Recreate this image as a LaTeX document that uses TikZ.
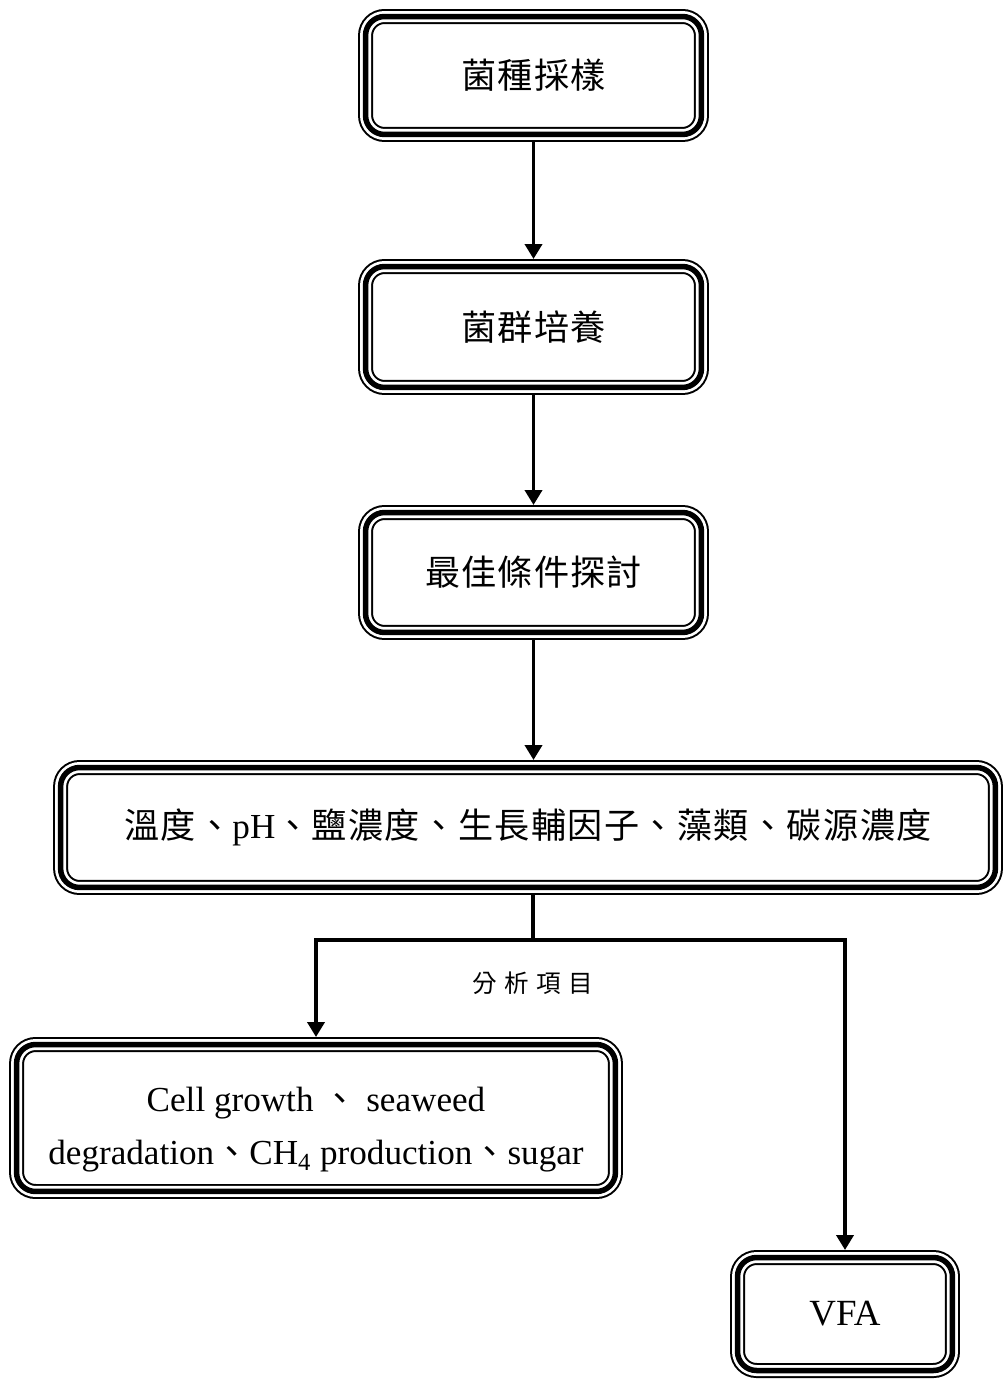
\documentclass[tikz,border=0pt]{standalone}
\usepackage{fontspec}
\setmainfont{Liberation Serif}
\newfontfamily\cjk[LetterSpace=3]{Noto Sans CJK TC}
\newfontfamily\cjkwide[LetterSpace=4]{Noto Sans CJK TC}
\newfontfamily\cjklab[LetterSpace=30]{Noto Sans CJK TC}
\usetikzlibrary{arrows.meta}
\tikzset{
  tribox/.style={rounded corners=0.38cm, inner sep=0pt,
    preaction={draw, line width=0.30cm},
    preaction={draw, white, line width=0.22cm},
    draw, line width=0.11cm, outer sep=0.15cm, align=center},
  flow/.style={line width=0.075cm, -{Triangle[width=0.34cm,length=0.3cm]}},
  link/.style={line width=0.075cm},
}

\begin{document}
\begin{tikzpicture}[x=0.02cm, y=-0.02cm, every node/.style={font=\fontsize{20pt}{26pt}\selectfont}]
  \useasboundingbox (0,0) rectangle (1003,1381);

  \coordinate (sample) at (533.5,75.5);
  \coordinate (culture) at (533.5,327);
  \coordinate (optimum) at (533.5,572.5);
  \coordinate (factors) at (528,827.5);
  \coordinate (split) at (533,940);
  \coordinate (items) at (533,983);
  \coordinate (cell) at (316,1118);
  \coordinate (vfa) at (845,1314);

  \node[tribox, minimum width=6.72cm, minimum height=2.36cm] (box1) at (sample) {\cjk 菌種採樣};
  \node[tribox, minimum width=6.72cm, minimum height=2.42cm] (box2) at (culture) {\cjk 菌群培養};
  \node[tribox, minimum width=6.72cm, minimum height=2.40cm] (box3) at (optimum) {\cjk 最佳條件探討};
  \node[tribox, minimum width=18.7cm, minimum height=2.40cm] (box4) at (factors)
    {{\cjkwide 溫度、}pH{\cjkwide 、鹽濃度、生長輔因子、藻類、碳源濃度}};
  \node[tribox, minimum width=11.98cm, minimum height=2.94cm,
    font=\fontsize{20pt}{30.6pt}\selectfont] (box5) at (cell)
    {\rule{0pt}{27pt}Cell growth {\cjk 、} seaweed\\degradation{\cjk 、}CH\textsubscript{4} production{\cjk 、}sugar};
  \node[tribox, minimum width=4.30cm, minimum height=2.26cm,
    font=\fontsize{21pt}{26pt}\selectfont] (box6) at (vfa) {VFA};

  \node[font=\fontsize{14pt}{17pt}\selectfont] (lab) at (items) {\cjklab 分析項目};

  \draw[flow] (box1) -- (box2);
  \draw[flow] (box2) -- (box3);
  \draw[flow] (box3.south) -- (box3.south |- box4.north);
  \draw[link] (split |- box4.south) -- (split);
  \draw[flow] (split) -| (box5.north);
  \draw[flow] (split) -| (box6.north);
\end{tikzpicture}
\end{document}
